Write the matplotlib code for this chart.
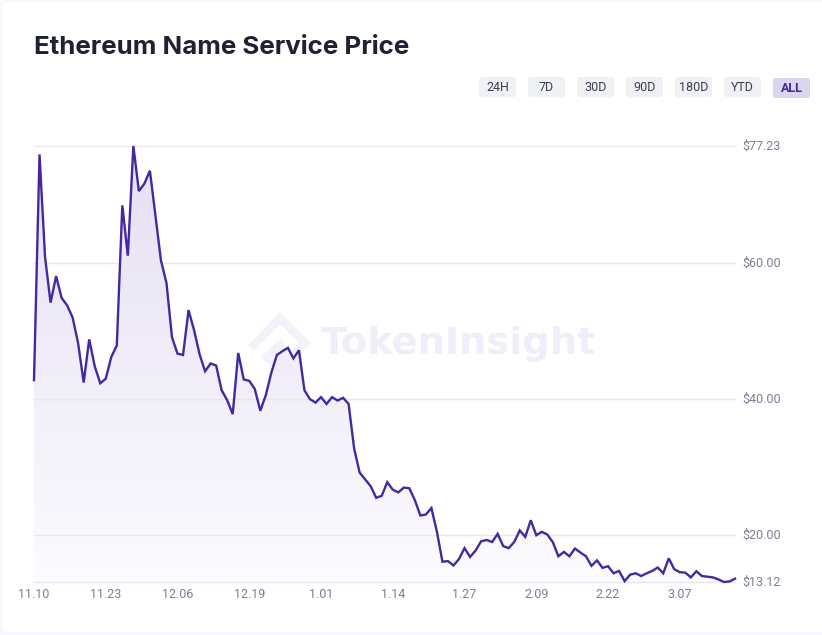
import numpy as np
import matplotlib
matplotlib.use("Agg")
import matplotlib.pyplot as plt
import matplotlib.transforms as mtrans
from matplotlib.patches import FancyBboxPatch, PathPatch
from matplotlib.path import Path
from matplotlib.colors import LinearSegmentedColormap

prices = [42.8, 76.0, 60.9, 54.2, 58.1, 54.9, 53.8, 52.0, 48.2, 42.45, 48.8, 44.85, 42.35, 43.0, 46.2, 47.9,
          68.5, 61.1, 77.23, 70.6, 71.7, 73.6, 67.0, 60.4, 57.1, 49.1, 46.7, 46.5, 53.1, 50.15, 46.6, 44.1,
          45.25, 44.95, 41.3, 39.85, 37.8, 46.8, 42.9, 42.7, 41.5, 38.3, 40.6, 43.9, 46.5,
          47.06, 47.55, 46.0, 47.2, 41.3, 40.0, 39.5, 40.3, 39.3, 40.3, 39.8, 40.2, 39.3, 32.75, 29.2, 28.2,
          27.2, 25.5, 25.8, 27.8, 26.7, 26.3, 27.0, 26.9, 25.15, 22.9, 23.05, 24.0, 20.5, 16.1, 16.2, 15.55,
          16.5, 18.1, 16.8, 17.75, 19.1, 19.3, 19.0, 20.2, 18.4, 18.1, 19.0, 20.7, 19.75, 22.2, 20.0, 20.5,
          20.1, 18.97, 16.9, 17.55, 16.9, 18.04, 17.45, 16.9, 15.5, 16.3, 15.2, 15.44, 14.4, 14.75, 13.24,
          14.2, 14.4, 14.0, 14.4, 14.75, 15.25, 14.4, 16.6, 15.0, 14.56, 14.5, 13.8, 14.7, 14.0, 13.9, 13.8,
          13.5, 13.12, 13.2, 13.6]
y_ticks = [13.12, 20.00, 40.00, 60.00, 77.23]
y_labels = ["$13.12", "$20.00", "$40.00", "$60.00", "$77.23"]
x_labels = ["11.10", "11.23", "12.06", "12.19", "1.01", "1.14", "1.27", "2.09", "2.22", "3.07"]
tick_step = 13
buttons = ["24H", "7D", "30D", "90D", "180D", "YTD", "ALL"]
title = "Ethereum Name Service Price"

W, H = 822, 635
plt.rcParams["font.family"] = ["Roboto", "DejaVu Sans"]
plt.rcParams["text.parse_math"] = False
fig = plt.figure(figsize=(W / 100, H / 100), dpi=100, facecolor="#f7f7fd")

# page furniture in pixel coordinates
bg = fig.add_axes([0, 0, 1, 1], zorder=0)
bg.set_xlim(0, W)
bg.set_ylim(H, 0)
bg.axis("off")
bg.add_patch(FancyBboxPatch((2, 2), W + 20, H - 5, boxstyle="round,pad=0,rounding_size=6",
                            fc="white", ec="none"))
bg.text(34, 47.5, title, fontfamily="Inter", fontweight="bold", fontsize=18.65,
        color="#1f2233", va="center", ha="left")

for i, b in enumerate(buttons):
    x0 = 479 + i * 49
    active = b == "ALL"
    y0 = 78 if active else 77
    bg.add_patch(FancyBboxPatch((x0, y0), 37, 20, boxstyle="round,pad=0,rounding_size=3",
                                fc="#dcd5ee" if active else "#f0f1f5", ec="none"))
    bg.text(x0 + 18.5, y0 + 10.5, b, ha="center", va="center", fontsize=9,
            color="#4527a0" if active else "#3b3b52", fontweight="bold" if active else "normal")

# watermark
bg.plot([254, 280, 305, 280, 267, 280],
        [345, 318, 343, 368, 357, 345], color="#f3f1f9", lw=6, solid_joinstyle="miter", zorder=1)
bg.text(321, 344.5, "TokenInsight", fontfamily="DejaVu Sans", fontweight="bold", fontsize=27.5,
        color="#f0eef8", va="center", ha="left", zorder=1)

# chart
ax = fig.add_axes([34 / W, 1 - 582 / H, 701 / W, 436 / H], zorder=2)
ax.patch.set_alpha(0)
x = np.arange(len(prices))
ax.set_xlim(0, len(prices) - 1)
ax.set_ylim(min(y_ticks), max(y_ticks))
for s in ax.spines.values():
    s.set_visible(False)

cmap = LinearSegmentedColormap.from_list("f", ["#fcfbfe", "#e5e0f3"])
grad = ax.imshow(np.linspace(1, 0, 256).reshape(-1, 1), cmap=cmap, aspect="auto",
                 extent=(0, len(prices) - 1, min(y_ticks), max(y_ticks)), zorder=1, alpha=1)
verts = [(x[0], min(y_ticks))] + list(zip(x, prices)) + [(x[-1], min(y_ticks)), (x[0], min(y_ticks))]
clip = PathPatch(Path(verts), transform=ax.transData, fc="none", ec="none")
ax.add_patch(clip)
grad.set_clip_path(clip)

ax.set_yticks(y_ticks, y_labels)
ax.set_xticks(x[::tick_step][:len(x_labels)], x_labels)
ax.yaxis.tick_right()
ax.grid(axis="y", color="#e8e6f0", lw=1, zorder=2, clip_on=False)
ax.set_axisbelow(False)
ax.grid(axis="x", visible=False)
ax.tick_params(axis="y", length=0, pad=5.2, labelsize=9, labelcolor="#7e7c96")
ax.tick_params(axis="x", length=0, pad=4.5, labelsize=9, labelcolor="#7e7c96")
up = mtrans.ScaledTranslation(0, 1 / 100, fig.dpi_scale_trans)
for t in ax.get_yticklabels():
    t.set_transform(t.get_transform() + up)
ax.plot(x, prices, color="#4527a0", lw=1.7, clip_on=False, zorder=3, solid_joinstyle="miter")

fig.savefig("out.png", dpi=100, facecolor=fig.get_facecolor())
